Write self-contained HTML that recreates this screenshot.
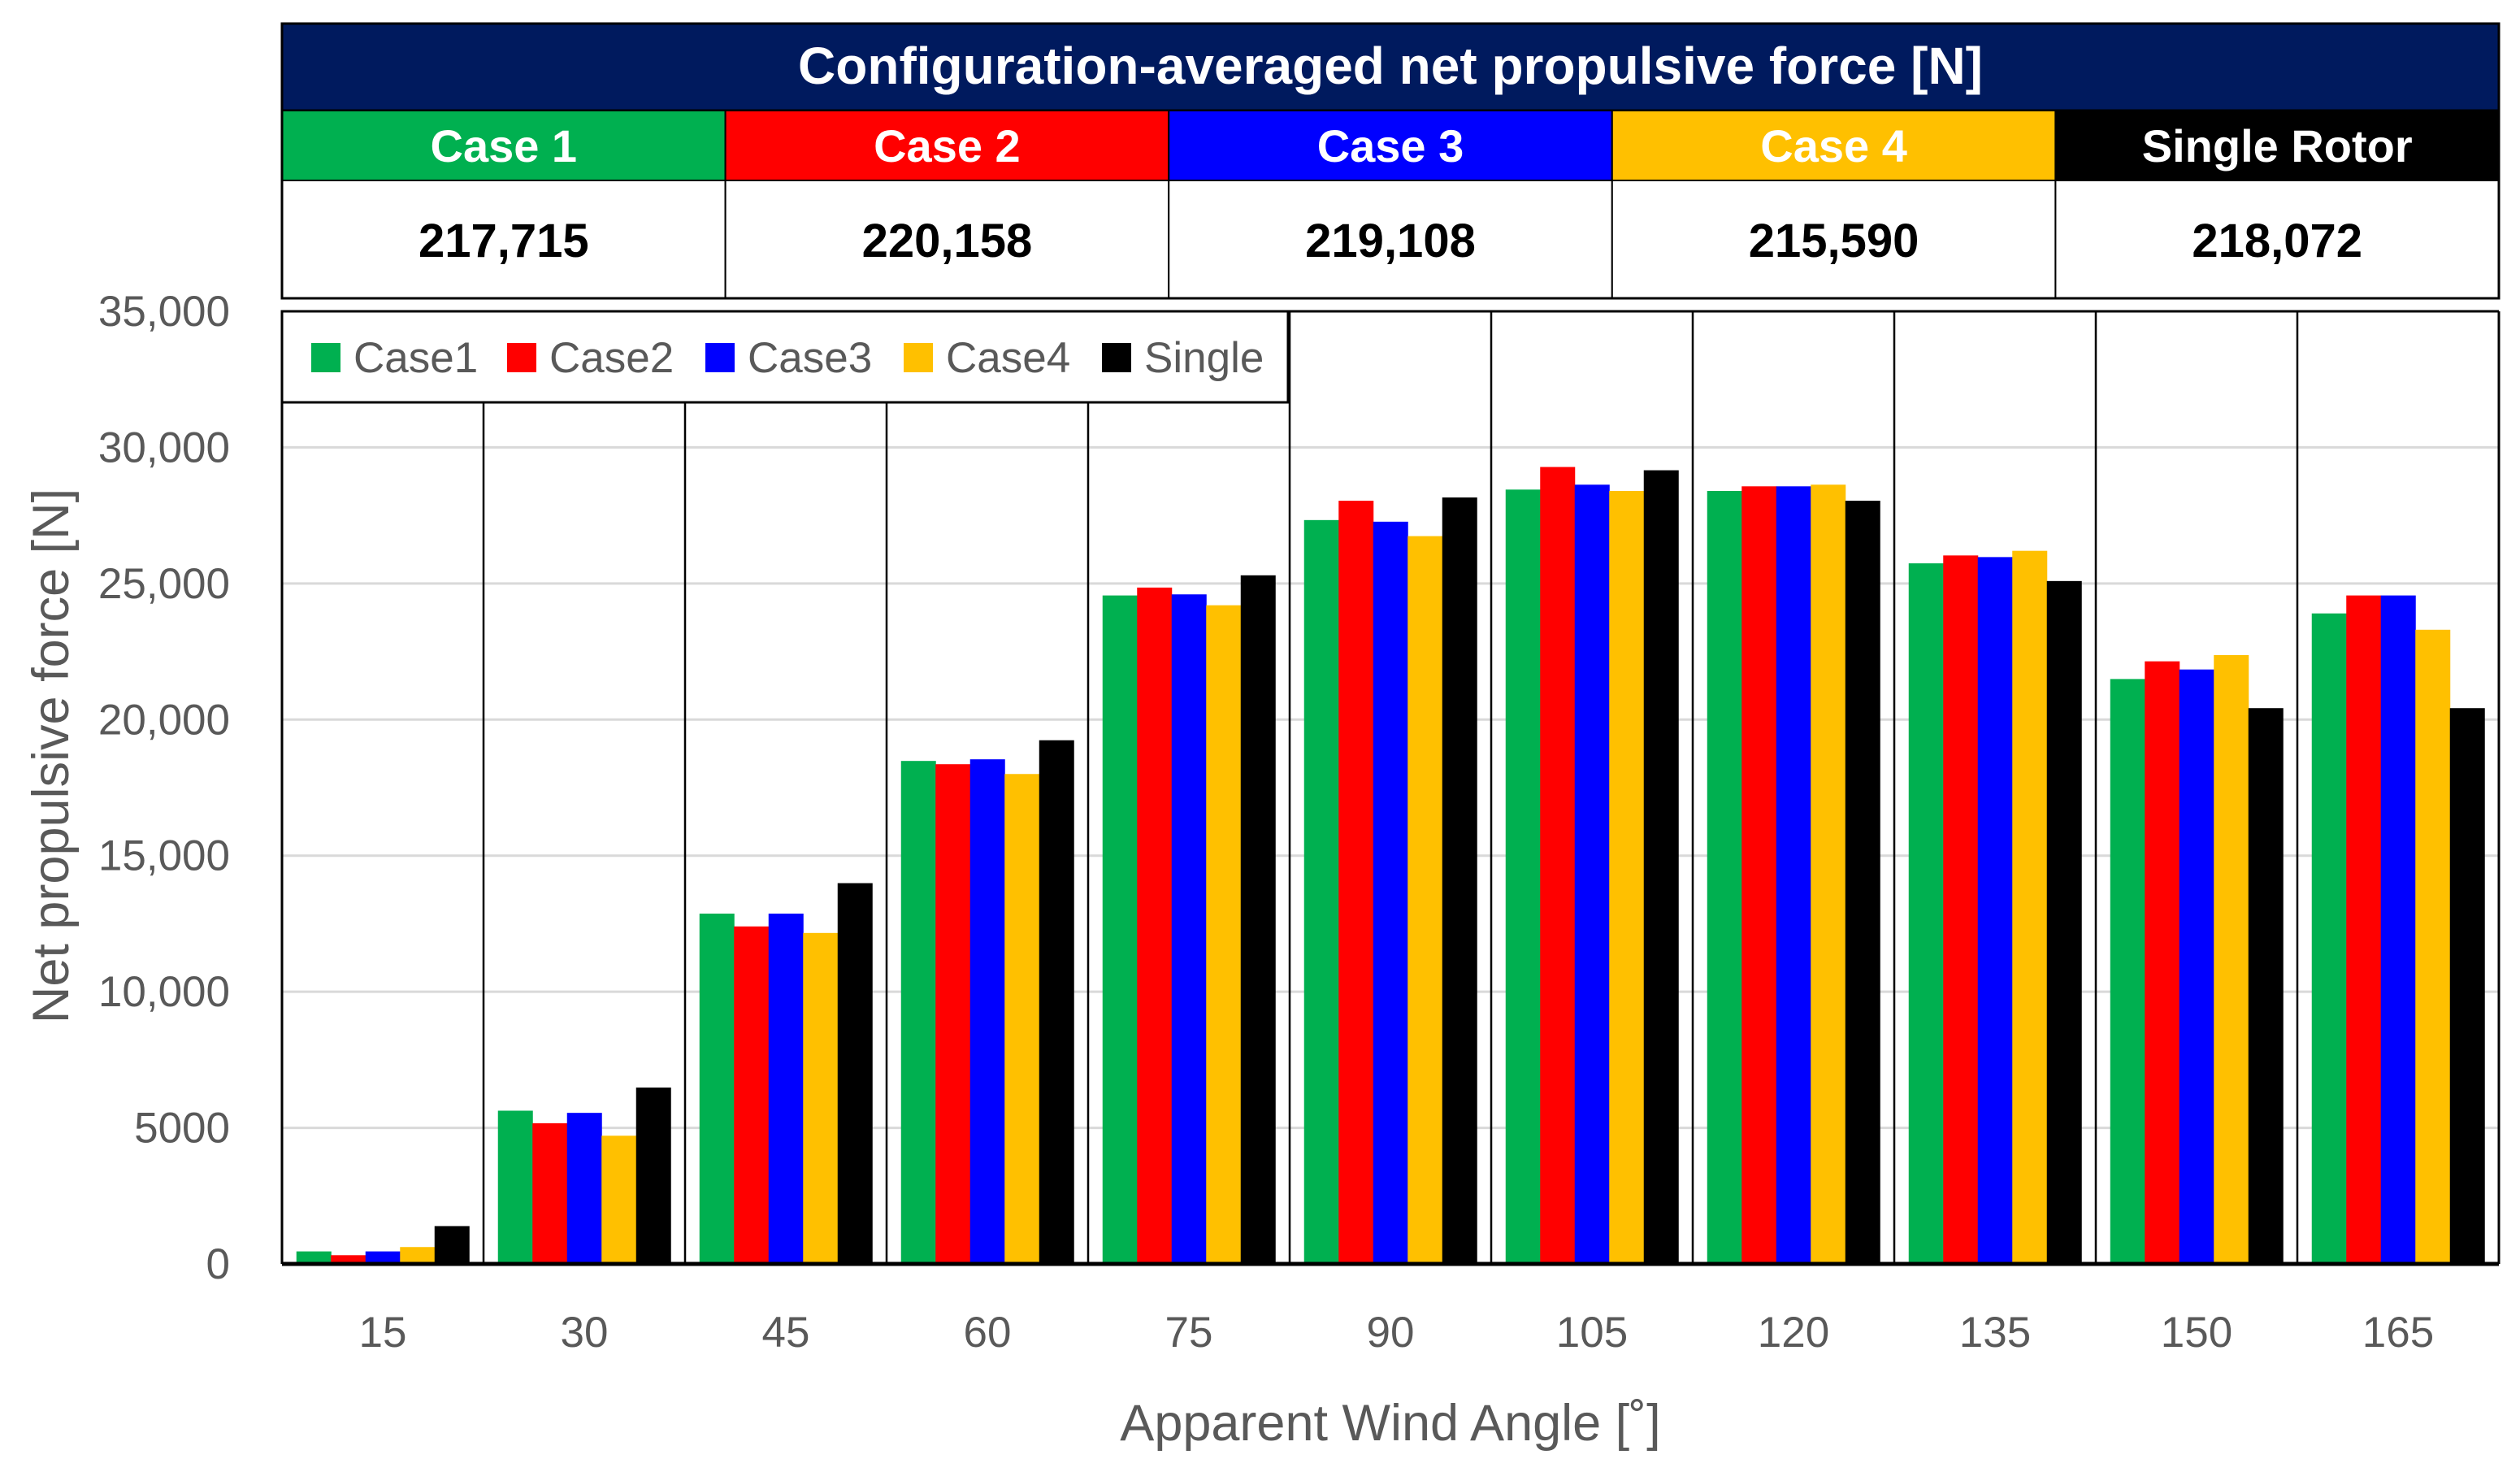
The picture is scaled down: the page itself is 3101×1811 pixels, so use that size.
<!DOCTYPE html>
<html><head><meta charset="utf-8">
<style>
html,body{margin:0;padding:0;background:#fff;}
svg{display:block;font-family:"Liberation Sans","Noto Sans CJK KR",sans-serif;}
</style></head>
<body>
<svg id="chart" width="3101" height="1811" viewBox="0 0 3101 1811" xmlns="http://www.w3.org/2000/svg">
<g id="table"></g>
<g id="grid"></g>
<g id="bars"></g>
<g id="frame"></g>
<g id="legend"></g>
<g id="axes"></g>
</svg>
<script>
const categories = ["15","30","45","60","75","90","105","120","135","150","165"];
const case1 = [0.46,5.63,12.87,18.48,24.56,27.33,28.45,28.4,25.74,21.49,23.9];
const case2 = [0.32,5.17,12.4,18.36,24.85,28.04,29.28,28.57,26.03,22.14,24.56];
const case3 = [0.46,5.55,12.87,18.54,24.6,27.27,28.63,28.57,25.97,21.84,24.56];
const case4 = [0.62,4.71,12.16,18.0,24.2,26.74,28.4,28.63,26.2,22.37,23.3];
const single = [1.39,6.48,13.99,19.24,25.3,28.16,29.16,28.04,25.09,20.42,20.42];
const yTicks = [0,5000,10000,15000,20000,25000,30000,35000];
const yTickLabels = ["0","5000","10,000","15,000","20,000","25,000","30,000","35,000"];
const seriesNames = ["Case1","Case2","Case3","Case4","Single"];
const tableHeads = ["Case 1","Case 2","Case 3","Case 4","Single Rotor"];
const tableValues = ["217,715","220,158","219,108","215,590","218,072"];

const colors = ["#00B050","#FF0000","#0000FF","#FFC000","#000000"];
const series = [case1,case2,case3,case4,single];
const NS="http://www.w3.org/2000/svg";
const L=347,R=3075,T=383,B=1555,YMAX=35000;
const cw=(R-L)/categories.length;
function y(v){return B-(v/YMAX)*(B-T);}
function xc(i){return L+cw*(i+0.5);}
function mk(parent,tag,attrs,text){const e=document.createElementNS(NS,tag);for(const k in attrs)e.setAttribute(k,attrs[k]);if(text!==undefined)e.textContent=text;parent.appendChild(e);return e;}
const gT=document.getElementById('table'),gG=document.getElementById('grid'),gB=document.getElementById('bars'),gF=document.getElementById('frame'),gL=document.getElementById('legend'),gA=document.getElementById('axes');

let e;
e=mk(gT,'rect',{x:L,y:29,width:R-L,height:107,fill:'#001A5E',stroke:'#000','stroke-width':3});

e=mk(gT,'text',{x:(L+R)/2,y:103,'text-anchor':'middle','font-size':64,'font-weight':'bold',fill:'#fff'},'Configuration-averaged net propulsive force [N]');

const tw=(R-L)/5;
const headColors=["#00B050","#FF0000","#0000FF","#FFC000","#000000"];
for(let i=0;i<5;i++){
  const x0=L+i*tw;
  e=mk(gT,'rect',{x:x0,y:136,width:tw,height:86,fill:headColors[i],stroke:'#000','stroke-width':2});
  
  e=mk(gT,'text',{x:x0+tw/2,y:199,'text-anchor':'middle','font-size':56,'font-weight':'bold',fill:'#fff'},tableHeads[i]);
  
  e=mk(gT,'rect',{x:x0,y:222,width:tw,height:145,fill:'#fff',stroke:'#000','stroke-width':2});
  
  e=mk(gT,'text',{x:x0+tw/2,y:316,'text-anchor':'middle','font-size':58,'font-weight':'bold',fill:'#000'},tableValues[i]);
  
}
mk(gT,'rect',{x:L,y:29,width:R-L,height:338,fill:'none',stroke:'#000','stroke-width':3});

yTicks.forEach((t,i)=>{
  const yy=y(t);
  if(t>0&&t<YMAX){e=mk(gG,'line',{x1:L,x2:R,y1:yy,y2:yy,stroke:'#D9D9D9','stroke-width':3});
  }
  e=mk(gA,'text',{x:283,y:yy+18,'text-anchor':'end','font-size':53,fill:'#595959'},yTickLabels[i]);
  
});

const bw=42.5,gw=bw*5;
categories.forEach((c,i)=>{
  const x0=xc(i)-gw/2;
  series.forEach((s,j)=>{
    e=mk(gB,'rect',{x:x0+j*bw,y:y(s[i]*1000),width:bw+0.5,height:B-y(s[i]*1000),fill:colors[j]});
    
  });
  e=mk(gA,'text',{x:xc(i),y:1657,'text-anchor':'middle','font-size':53,fill:'#595959'},c);
  
});

const legR=1585,legB=495;
for(let i=1;i<categories.length;i++){
  const xx=L+i*cw;
  const top = xx<legR? legB : T;
  e=mk(gF,'line',{x1:xx,x2:xx,y1:top,y2:B,stroke:'#000','stroke-width':2.5});
  
}
mk(gF,'line',{x1:L,x2:L,y1:T,y2:B,stroke:'#000','stroke-width':3});
mk(gF,'line',{x1:R,x2:R,y1:T,y2:B,stroke:'#000','stroke-width':3});
mk(gF,'line',{x1:L,x2:R,y1:T,y2:T,stroke:'#000','stroke-width':3});
e=mk(gF,'line',{x1:L,x2:R,y1:B,y2:B,stroke:'#000','stroke-width':5});


e=mk(gL,'rect',{x:L,y:T,width:legR-L,height:legB-T,fill:'#fff',stroke:'#000','stroke-width':3});

const legX=[383,624,868,1112,1356];
seriesNames.forEach((n,j)=>{
  e=mk(gL,'rect',{x:legX[j],y:422,width:36,height:36,fill:colors[j]});
  
  e=mk(gL,'text',{x:legX[j]+52,y:458,'font-size':53,fill:'#595959'},n);
  
});

e=mk(gA,'text',{x:1711,y:1772,'text-anchor':'middle','font-size':63,fill:'#595959'},'Apparent Wind Angle [˚]');

e=mk(gA,'text',{x:0,y:0,'text-anchor':'middle','font-size':63,fill:'#595959',transform:'translate(84,930) rotate(-90)'},'Net propulsive force [N]');

</script>
</body></html>
